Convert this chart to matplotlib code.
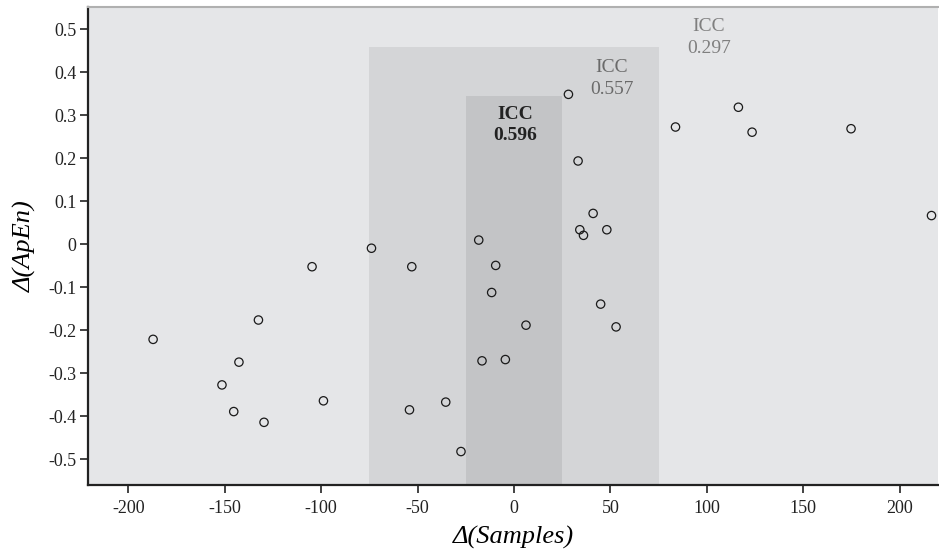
import matplotlib.pyplot as plt
from matplotlib.patches import Rectangle

# scatter data: delta samples vs delta ApEn
d_samples = [-187.1, -132.5, -142.6, -151.4, -145.3, -129.6,
             -104.7, -73.9, -53.0, -18.3, -9.5, 28.2, 33.2, 41.0,
             34.1, 36.0, 48.1, 83.7,
             -11.6, 44.9, 6.2, 52.9, -16.6, -4.5, -98.8, -54.2, -35.4, -27.5,
             116.3, 123.4, 174.7, 216.4]
d_apen = [-0.221, -0.176, -0.274, -0.327, -0.389, -0.414,
          -0.052, -0.009, -0.052, 0.010, -0.049, 0.349, 0.194, 0.072,
          0.034, 0.021, 0.034, 0.273,
          -0.112, -0.139, -0.188, -0.192, -0.271, -0.268, -0.364, -0.385, -0.367, -0.482,
          0.319, 0.261, 0.269, 0.067]

# window half-widths, shaded band heights and ICC labels
windows = [75, 25]
band_tops = [0.459, 0.346]
band_colors = ['#d4d5d7', '#c3c4c6']
icc_labels = ['ICC\n0.297', 'ICC\n0.557', 'ICC\n0.596']
icc_x = [101, 50.6, 0.4]
icc_y = [0.481, 0.386, 0.278]
icc_colors = ['#7f7f7f', '#6a6a6a', '#222222']
icc_weights = ['normal', 'normal', 'bold']

x_ticks = [-200, -150, -100, -50, 0, 50, 100, 150, 200]
y_ticks = [-0.5, -0.4, -0.3, -0.2, -0.1, 0, 0.1, 0.2, 0.3, 0.4, 0.5]
y_ticklabels = ['-0.5', '-0.4', '-0.3', '-0.2', '-0.1', '0',
                '0.1', '0.2', '0.3', '0.4', '0.5']

plt.rcParams['font.family'] = ['Liberation Serif', 'DejaVu Serif']

fig = plt.figure(figsize=(9.39, 5.55), dpi=100)
ax = fig.add_axes([0.0934, 0.126, 0.906, 0.862])
ax.set_facecolor('#e5e6e8')

ylo, yhi = -0.56, 0.553
for w, top, c in zip(windows, band_tops, band_colors):
    ax.add_patch(Rectangle((-w, ylo), 2 * w, top - ylo, facecolor=c,
                           edgecolor='none', zorder=1))

ax.scatter(d_samples, d_apen, s=36, facecolors='none', edgecolors='#1a1a1a',
           linewidths=0.9, zorder=3)

for lab, x, y, c, fw in zip(icc_labels, icc_x, icc_y, icc_colors, icc_weights):
    ax.text(x, y, lab, ha='center', va='center', color=c, fontsize=14,
            fontweight=fw, linespacing=1.35, zorder=4)

ax.set_xlim(-221, 220)
ax.set_ylim(ylo, yhi)
ax.set_xticks(x_ticks)
ax.set_xticklabels([str(t) for t in x_ticks])
ax.set_yticks(y_ticks)
ax.set_yticklabels(y_ticklabels)
ax.tick_params(axis='both', labelsize=13, colors='#222222', length=6, width=1.2)
ax.tick_params(axis='x', pad=5)
ax.tick_params(axis='y', pad=2)

for side in ('left', 'bottom'):
    ax.spines[side].set_color('#222222')
    ax.spines[side].set_linewidth(1.6)
ax.spines['top'].set_color('#b0b0b0')
ax.spines['top'].set_linewidth(1.5)
ax.spines['right'].set_visible(False)

ax.set_xlabel('Δ(Samples)', fontsize=19, style='italic', labelpad=6)
ax.set_ylabel('Δ(ApEn)', fontsize=19, style='italic', labelpad=8)

fig.savefig('out.png', dpi=100)
